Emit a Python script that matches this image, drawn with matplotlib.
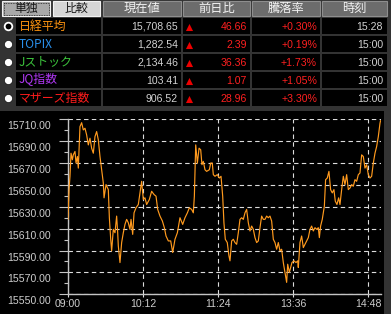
import matplotlib
matplotlib.use("Agg")
import matplotlib.pyplot as plt
from matplotlib.patches import Rectangle
from matplotlib.transforms import ScaledTranslation

plt.rcParams['font.family'] = ['Noto Sans CJK JP', 'DejaVu Sans']
NUMFONT = 'Liberation Sans'

# ---- quote table ----
buttons = ['単独', '比較']
headers = ['現在値', '前日比', '騰落率', '時刻']
names = ['日経平均', 'TOPIX', 'Jストック', 'JQ指数', 'マザーズ指数']
name_colors = ['#ff9410', '#2a90ec', '#3cc43c', '#b038f4', '#ff1c1c']
prices = ['15,708.65', '1,282.54', '2,134.46', '103.41', '906.52']
changes = ['46.66', '2.39', '36.36', '1.07', '28.96']
pcts = ['+0.30%', '+0.19%', '+1.73%', '+1.05%', '+3.30%']
times = ['15:28', '15:00', '15:00', '15:00', '15:00']

# ---- intraday Nikkei line (trading minutes from 09:00, lunch break removed) ----
minutes = [0, 1.0, 1.9, 2.9, 4.2, 5.1, 6.7, 7.7, 9.0, 9.9, 11.5, 13.1, 14.7, 16.3,
           17.9, 19.5, 21.1, 22.7, 24.3, 25.9, 27.5, 29.1, 30.7, 32.3, 33.9, 34.6,
           36.5, 38.7, 39.7, 41.0, 41.9, 43.5, 45.1, 46.7, 47.7, 48.3, 49.9, 51.5,
           53.1, 54.7, 56.3, 57.9, 59.5, 60.5, 62.1, 63.4, 65.3, 67.5, 69.1, 70.7,
           72.3, 73.9, 75.5, 78.1, 80.3, 82.6, 84.5, 86.1, 88.3, 90.6, 92.5, 94.1,
           96.3, 98.6, 100.5, 102.7, 105.0, 107.5, 110.1, 112.3, 114.6, 116.5,
           118.7, 120.3, 121.3, 122.6, 124.2, 125.8, 127.4, 128.6, 129.9, 131.5,
           133.1, 135.7, 137.0, 138.5, 139.5, 141.1, 143.3, 145.3, 146.9, 148.5,
           149.7, 151.0, 152.9, 154.5, 155.5, 157.1, 158.7, 160.3, 161.9, 163.5,
           165.1, 166.7, 168.3, 169.9, 171.5, 173.1, 174.7, 176.3, 177.9, 179.5,
           181.1, 182.7, 184.3, 185.9, 187.5, 189.1, 190.7, 192.3, 193.9, 195.5,
           197.1, 198.7, 200.3, 201.9, 203.5, 205.1, 206.7, 208.3, 209.9, 210.9,
           212.5, 213.7, 215.0, 216.9, 218.9, 220.5, 221.1, 222.7, 224.3, 225.9,
           227.5, 229.1, 230.7, 232.3, 233.9, 235.5, 237.1, 238.7, 240.3, 241.3,
           242.5, 244.1, 246.1, 247.3, 248.9, 250.5, 252.1, 253.7, 255.3, 256.6,
           258.2, 259.8, 261.1, 262.7, 264.3, 265.9, 267.5, 269.1, 270.7, 272.3,
           273.9, 275.5, 277.1, 278.7, 280.3, 281.9, 283.5, 285.1, 286.7, 288.3,
           289.9, 291.5, 293.1, 294.7, 296.3, 297.9, 299.5, 300]
nikkei = [15618.5, 15645.7, 15657.9, 15679.0, 15673.0, 15677.5, 15680.6, 15670.0,
          15676.0, 15665.4, 15703.3, 15706.9, 15700.3, 15701.8, 15695.7, 15686.6,
          15692.7, 15683.6, 15679.0, 15694.2, 15698.8, 15691.2, 15676.0, 15663.9,
          15651.8, 15638.2, 15650.3, 15645.7, 15620.0, 15600.3, 15589.7, 15609.4,
          15606.3, 15621.5, 15606.3, 15594.2, 15579.0, 15597.3, 15606.3, 15613.9,
          15618.5, 15615.4, 15609.4, 15618.5, 15604.8, 15624.5, 15629.1, 15632.1,
          15642.7, 15653.3, 15636.7, 15638.2, 15632.1, 15636.7, 15644.2, 15641.2,
          15639.7, 15627.6, 15621.5, 15617.0, 15610.9, 15603.3, 15598.8, 15598.8,
          15588.2, 15600.3, 15606.3, 15620.0, 15613.9, 15620.0, 15624.5, 15629.1,
          15627.6, 15624.5, 15639.7, 15686.6, 15670.0, 15683.6, 15682.1, 15668.5,
          15671.5, 15663.9, 15662.4, 15663.9, 15670.0, 15670.0, 15659.4, 15657.9,
          15659.4, 15656.3, 15657.9, 15639.7, 15615.4, 15600.3, 15597.3, 15585.1,
          15580.6, 15598.8, 15600.3, 15597.3, 15595.7, 15606.3, 15618.5, 15620.0,
          15618.5, 15624.5, 15627.6, 15615.4, 15607.9, 15612.4, 15609.4, 15601.8,
          15597.3, 15598.8, 15610.9, 15621.5, 15618.5, 15618.5, 15621.5, 15620.0,
          15621.5, 15617.0, 15600.3, 15597.3, 15591.2, 15597.3, 15589.7, 15591.2,
          15579.0, 15570.0, 15560.9, 15577.5, 15570.0, 15574.5, 15579.0, 15580.6,
          15579.0, 15580.6, 15574.5, 15597.3, 15603.3, 15592.7, 15595.7, 15598.8,
          15601.8, 15609.4, 15612.4, 15607.9, 15610.9, 15609.4, 15610.9, 15601.8,
          15612.4, 15618.5, 15630.6, 15654.8, 15656.3, 15662.4, 15645.7, 15642.7,
          15645.7, 15635.1, 15632.1, 15638.2, 15632.1, 15645.7, 15657.9, 15650.3,
          15659.4, 15645.7, 15647.2, 15650.3, 15648.8, 15654.8, 15653.3, 15659.4,
          15660.9, 15677.5, 15676.0, 15665.4, 15668.5, 15659.4, 15656.3, 15657.9,
          15670.0, 15679.0, 15685.1, 15694.2, 15706.3, 15708.65]
xtick_pos = [0, 72, 144, 216, 288]
xtick_labels = ['09:00', '10:12', '11:24', '13:36', '14:48']
ytick_vals = list(range(15550, 15711, 20))

W, H = 391, 314
fig = plt.figure(figsize=(W / 100, H / 100), dpi=100)
fig.patch.set_facecolor('#333333')

bg = fig.add_axes([0, 0, 1, 1])
bg.set_xlim(0, W)
bg.set_ylim(H, 0)
bg.axis('off')

# chart background
bg.add_patch(Rectangle((0, 111), 384, H - 111, fc='black', ec='none'))

# header row
btn_spans = [(2, 50), (53, 100)]
btn_fc = ['#a9a9a9', '#d6d6d6']
for i, lab in enumerate(buttons):
    x0, x1 = btn_spans[i]
    bg.add_patch(Rectangle((x0, 1), x1 - x0, 15, fc=btn_fc[i], ec='#f2f2f2', lw=0.8))
    if i == 0:
        bg.add_patch(Rectangle((x0 + 1.5, 2.5), x1 - x0 - 3, 12, fc='none',
                               ec='#202020', lw=0.6, ls=(0, (1, 1))))
    bg.text((x0 + x1) / 2, 8.8, lab, ha='center', va='center', fontsize=8.6, color='#181818')

col_spans = [(103, 181), (183, 250), (252, 320), (322, 387)]
for i, lab in enumerate(headers):
    x0, x1 = col_spans[i]
    bg.add_patch(Rectangle((x0, 1), x1 - x0, 15, fc='#6c6c6c', ec='#8e8e8e', lw=0.8))
    bg.text((x0 + x1) / 2, 8.8, lab, ha='center', va='center', fontsize=8.8, color='#f4f4f4')

# data rows
cells = [(16, 101)] + col_spans
for r in range(len(names)):
    top = 18 + 18 * r
    yc = top + 8
    for x0, x1 in cells:
        bg.add_patch(Rectangle((x0, top), x1 - x0, 16, fc='black', ec='none'))
    if r == 0:
        bg.scatter([8], [yc], s=30, fc='black', ec='white', lw=1.3, zorder=3)
    else:
        bg.scatter([8], [yc], s=34, fc='white', ec='#111111', lw=0.5, zorder=3)
    bg.text(19, yc, names[r], ha='left', va='center', fontsize=8.6, color=name_colors[r])
    bg.text(178, yc + 0.5, prices[r], ha='right', va='center', fontsize=7.6,
            family=NUMFONT, color='#d2d2d2')
    bg.scatter([189], [yc + 0.5], s=26, marker='^', color='#ee0000', lw=0, zorder=3)
    bg.text(247, yc + 0.5, changes[r], ha='right', va='center', fontsize=7.6,
            family=NUMFONT, color='#ff2020')
    bg.text(317, yc + 0.5, pcts[r], ha='right', va='center', fontsize=7.6,
            family=NUMFONT, color='#ff2020')
    bg.text(383, yc + 0.5, times[r], ha='right', va='center', fontsize=7.6,
            family=NUMFONT, color='#d2d2d2')

# ---- price chart ----
ymin, ymax = 15550, 15710.6
px_per_unit = 175 / 160
ax_h = (ymax - ymin) * px_per_unit
ax = fig.add_axes([68 / W, (H - 294.3) / H, 312.5 / W, ax_h / H])
ax.set_facecolor('none')
ax.plot(minutes, nikkei, color='#ff9a1e', lw=0.85, zorder=3)
ax.set_xlim(0, 300)
ax.set_ylim(ymin, ymax)

for s in ['top', 'right']:
    ax.spines[s].set_visible(False)
for s in ['left', 'bottom']:
    ax.spines[s].set_color('#c4c4c4')
    ax.spines[s].set_linewidth(1.0)

ax.set_yticks(ytick_vals)
ax.set_yticklabels([f'{v:.2f}' for v in ytick_vals], fontfamily=NUMFONT)
ax.set_yticks([v + 10 for v in ytick_vals[:-1]], minor=True)
ax.set_xticks(xtick_pos)
ax.set_xticklabels(xtick_labels, fontfamily=NUMFONT)

ax.tick_params(axis='y', which='major', length=6.5, width=0.8, color='#c4c4c4',
               pad=6.0, labelsize=7.6, labelcolor='#cdcdcd')
ax.tick_params(axis='y', which='minor', length=3, width=0.8, color='#c4c4c4')
ax.tick_params(axis='x', which='major', length=2.2, width=0.8, color='#dddddd',
               pad=1.5, labelsize=7.6, labelcolor='#cdcdcd')

ax.grid(True, which='major', color='#dcdcdc', lw=0.8, ls=(0, (4, 3)))

shift = ScaledTranslation(0, -6 / 100, fig.dpi_scale_trans)
for lab in ax.get_yticklabels():
    lab.set_transform(lab.get_transform() + shift)

fig.savefig('out.png', dpi=100, facecolor=fig.get_facecolor())
